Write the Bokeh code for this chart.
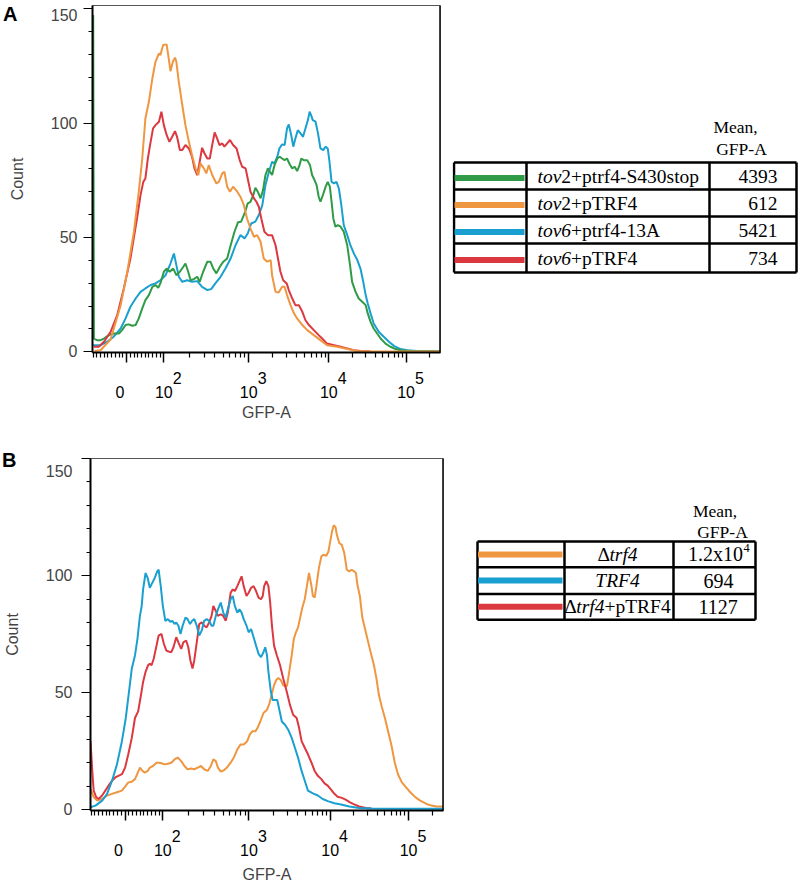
import math
from bokeh.plotting import figure
from bokeh.models import FixedTicker, Span, Range1d, Div
from bokeh.layouts import column, row
from bokeh.embed import file_html
from bokeh.resources import INLINE
from bokeh.core.properties import value

# ---------------- data ----------------
# x positions are read in display channels of the biexponential GFP-A axis (0-1000 across the plot)
TICK_CHANNELS = [98, 205, 449, 679, 901]
TICK_BASE = ["0", "10", "10", "10", "10"]
TICK_EXP = ["", "2", "3", "4", "5"]
COUNT_TICKS = [0, 50, 100, 150]

GREEN = "#2F9B47"
ORANGE = "#EF9641"
BLUE = "#1AA0D0"
RED = "#DB3840"

# Panel A
A_ORANGE_X = [6, 23, 52, 81, 100, 119, 133, 143, 152, 162, 172, 181, 191, 195, 203, 213, 219, 224, 231, 237,
              241, 248, 258, 267, 277, 286, 296, 304, 310, 320, 327, 334, 344, 356, 363, 373, 379, 387, 395, 404,
              416, 425, 435, 444, 454, 464, 473, 483, 492, 502, 512, 516, 526, 535, 545, 552, 559, 569, 579, 588,
              603, 617, 636, 655, 674, 703, 732, 761, 799, 1000]
A_ORANGE_Y = [0.4, 0.7, 5.4, 20.4, 35, 52.5, 70, 84.5, 102, 109.3, 119.5, 126.8, 130.5, 129.7, 134.1, 134.4, 128.3,
              122.7, 126.8, 128.6, 126.8, 118, 107.9, 99.1, 91.8, 86, 80.2, 77.3, 82.4, 80.2, 78, 81.6, 77.3, 73.6,
              74.3, 78, 78.7, 72.2, 70, 72.2, 70, 67.8, 64.1, 58.3, 53.9, 50.3, 51, 48.1, 40.8, 39.4, 40.1, 33.5,
              26.2, 25.9, 28.4, 28.4, 24.8, 20.4, 16.8, 14.6, 11.7, 9.5, 7.3, 5.1, 2.9, 2.2, 1.2, 0.4, 0.3, 0.1]

A_RED_X = [4, 18, 33, 52, 71, 90, 109, 128, 138, 146, 152, 159, 167, 174, 181, 191, 198, 205, 213, 221, 229, 237,
           243, 251, 258, 267, 277, 286, 293, 301, 308, 315, 322, 330, 337, 344, 351, 358, 365, 373, 379, 387, 395,
           404, 414, 423, 430, 440, 446, 454, 464, 471, 478, 485, 494, 504, 516, 526, 533, 540, 548, 558, 564, 574,
           583, 593, 603, 612, 622, 636, 650, 660, 674, 694, 713, 732, 751, 770, 799]
A_RED_Y = [2.2, 2.2, 4.4, 8.7, 16, 27.7, 40.8, 58.3, 68.5, 74.3, 75.8, 84.5, 91.8, 97.7, 99.1, 100.6, 105, 99.1,
           94.8, 91.8, 94, 96.5, 94, 88.2, 88.2, 90.4, 88.9, 85.3, 80.2, 77.3, 83.1, 89.2, 86.7, 84.5, 84.5, 90.4,
           95.9, 93.3, 90.4, 91.1, 89.7, 91.1, 92.6, 90.4, 88.9, 83.8, 80.9, 80.2, 75.8, 70, 67.1, 65.6, 63.4, 58.3,
           52.5, 51, 51, 46.6, 40.8, 35, 31.3, 29.9, 27, 23.3, 20.4, 20.4, 17.5, 13.8, 11.7, 9.5, 7.3, 5.8, 3.6,
           2.9, 2.2, 1.5, 0.7, 0.4, 0.1]

A_BLUE_X = [2, 23, 42, 61, 81, 95, 109, 124, 138, 152, 167, 181, 195, 210, 224, 234, 241, 248, 258, 272, 286, 301,
            315, 330, 341, 353, 368, 382, 397, 411, 425, 437, 446, 456, 468, 478, 488, 497, 507, 516, 523, 531, 537,
            545, 552, 559, 564, 571, 577, 583, 590, 598, 605, 612, 619, 624, 628, 633, 641, 648, 655, 663, 670, 676,
            681, 687, 694, 701, 708, 715, 722, 732, 741, 751, 761, 770, 778, 785, 791, 799, 808, 823, 837, 852, 866,
            885, 904, 933, 1000]
A_BLUE_Y = [2.9, 2.9, 4.4, 6.6, 10.2, 14.6, 19.7, 23.3, 26.2, 27.7, 29.2, 29.9, 31.3, 33.5, 38.6, 43, 37.9, 32.8,
            30.6, 31.3, 30.6, 30.9, 28.4, 27, 27.4, 29.9, 32.8, 36.4, 40.8, 46.6, 51, 49.6, 51.7, 56.1, 56.9, 59.8,
            64.1, 72.9, 78.7, 83.1, 82.4, 85.3, 88.9, 90.7, 90.4, 97.7, 99.4, 94.8, 89.7, 93.3, 96.9, 95.5, 94, 97.7,
            101.3, 105, 103.5, 101.3, 100.6, 95.5, 88.9, 88.2, 89.7, 88.9, 83.1, 74.3, 73.6, 74.3, 71.4, 64.1, 55.4,
            51, 46.6, 43, 40.1, 36.4, 30.6, 24.8, 21.1, 16.8, 12.4, 8.7, 6.6, 4.4, 2.6, 1.2, 0.7, 0.4, 0.3]

A_GREEN_X = [2, 4, 13, 23, 33, 47, 61, 76, 85, 95, 104, 114, 124, 133, 143, 152, 162, 172, 181, 189, 195, 205, 213,
             222, 232, 241, 251, 261, 267, 275, 282, 291, 301, 308, 318, 330, 339, 347, 356, 366, 376, 387, 397, 408,
             418, 427, 437, 446, 454, 462, 468, 475, 483, 490, 497, 504, 510, 516, 523, 531, 538, 545, 552, 559, 567,
             574, 581, 588, 595, 600, 607, 617, 625, 631, 638, 644, 650, 655, 662, 670, 676, 682, 687, 692, 698, 705,
             713, 722, 732, 740, 746, 756, 765, 775, 785, 791, 799, 808, 818, 828, 842, 856, 871, 885, 914, 1000]
A_GREEN_Y = [147.2, 5.8, 5.1, 5.1, 5.8, 7.3, 8, 8, 9.5, 11.7, 12, 11.4, 11.7, 14.6, 19, 22.6, 24.8, 28.4, 29.2, 28,
             29.9, 35, 36.4, 35, 36.4, 33.5, 35, 37.2, 38.6, 35, 31.3, 31.8, 32.8, 30.6, 35, 39.4, 39.4, 36.4, 34.3,
             37.2, 39.4, 40.8, 46.6, 52.5, 56.6, 56.9, 60.5, 64.9, 65.6, 68.5, 71.7, 70, 67.1, 70.7, 77.3, 80.2,
             78.7, 77.3, 81.6, 84.5, 85.3, 84.5, 83.8, 84.5, 81.9, 80.2, 80.9, 79, 81.6, 84.5, 83.8, 83.8, 81.6,
             77.3, 75.1, 72.9, 67.8, 65.6, 68.5, 72.2, 74.3, 72.2, 65.6, 58.3, 54.7, 55.4, 54.7, 52.5, 46.6, 37.9,
             30.6, 26.2, 23.3, 21.9, 20.4, 16.8, 13.1, 10.2, 8, 5.8, 3.6, 2.2, 1.2, 0.7, 0.4, 0.3]

# Panel B
B_BLUE_X = [0, 14, 33, 47, 61, 75, 89, 100, 109, 117, 126, 133, 140, 145, 149, 156, 162, 168, 175, 182, 189, 193,
            199, 205, 212, 219, 226, 232, 238, 243, 249, 255, 261, 269, 275, 282, 288, 294, 301, 308, 315, 322, 329,
            336, 343, 348, 355, 361, 369, 376, 383, 389, 397, 403, 409, 416, 422, 428, 434, 442, 448, 455, 462, 469,
            476, 483, 490, 495, 500, 504, 511, 516, 523, 529, 535, 542, 551, 560, 570, 579, 588, 598, 607, 616, 630,
            644, 658, 672, 691, 710, 733, 761, 798, 845, 1000]
B_BLUE_Y = [1.1, 1.8, 3.9, 6.8, 12.4, 19.4, 29.3, 39.2, 50.4, 60.3, 65.9, 73, 82.8, 87, 94.1, 101.1, 99, 94.8, 96.9,
            99, 101.8, 102.5, 95.5, 87, 80.7, 81.4, 80.3, 80.7, 79.3, 80, 78.6, 75.1, 78.6, 82.1, 81.4, 79.3, 80.7,
            81.4, 78.6, 74.4, 76.5, 80.7, 81.4, 80.7, 78.6, 78.6, 82.8, 85.6, 88.5, 84.2, 82.1, 85.6, 89.9, 91.3, 87,
            84.2, 85.6, 84.2, 81.4, 78.6, 75.8, 77.2, 73.7, 70.1, 66.6, 65.2, 67.3, 69.4, 65.9, 58.9, 50.4, 46.9,
            46.9, 46.9, 42.7, 37.7, 36.3, 34.2, 30.7, 26.5, 22.3, 16.6, 12.4, 8.2, 7, 6.1, 4.6, 3.7, 2.8, 2.3, 1.4,
            0.8, 0.6, 0.4, 0.4]

B_RED_X = [0, 5, 9, 16, 23, 33, 42, 51, 61, 70, 79, 89, 98, 107, 117, 126, 135, 143, 149, 156, 163, 168, 173, 179,
           187, 193, 201, 208, 215, 221, 229, 235, 243, 249, 257, 263, 271, 277, 283, 289, 294, 301, 308, 315, 322,
           329, 336, 343, 348, 355, 361, 369, 376, 383, 389, 397, 403, 409, 416, 422, 428, 434, 442, 448, 455, 462,
           469, 476, 483, 488, 492, 498, 504, 509, 514, 520, 528, 537, 546, 556, 565, 574, 584, 591, 598, 607, 616,
           626, 635, 644, 654, 663, 672, 682, 691, 700, 712, 724, 735, 747, 761, 780, 794]
B_RED_Y = [29.3, 16.6, 8.2, 5.4, 4.6, 6.1, 8.2, 10.3, 12.4, 13.8, 14.5, 15.2, 18, 23.7, 30.7, 39.2, 42, 49, 54.6,
           58.9, 61.7, 62.4, 61.7, 64.5, 70.1, 74.4, 75.1, 70.8, 68, 67.6, 67.3, 69.4, 73.7, 71.5, 68.7, 71.5, 72.3,
           69.4, 63.8, 60.3, 63.8, 71.5, 79.3, 80, 78.6, 77.9, 80, 82.8, 87, 84.9, 82.8, 83.5, 82.8, 80.7, 84.2,
           92.7, 94.1, 93.4, 95.5, 97.6, 99.7, 95.5, 91.3, 92.7, 94.8, 95.5, 93.4, 90.6, 89.9, 91.3, 95.5, 97.6,
           95.5, 88.5, 78.6, 70.1, 65.9, 61.7, 56.1, 50.4, 44.8, 40.6, 39.2, 34.9, 29.3, 26.5, 23.7, 20.1, 16.6,
           14.5, 13.1, 11.3, 10.3, 8.5, 6.8, 5.6, 5.1, 4.2, 3.2, 2.3, 1.4, 0.8, 0.7]

B_ORANGE_X = [0, 9, 19, 33, 47, 61, 75, 89, 98, 107, 117, 126, 134, 140, 147, 154, 162, 168, 177, 187, 193, 201,
              210, 219, 229, 238, 247, 257, 266, 275, 285, 294, 304, 313, 322, 332, 341, 348, 355, 361, 369, 378,
              388, 397, 406, 416, 425, 434, 444, 451, 458, 467, 473, 481, 490, 500, 507, 514, 520, 526, 532, 539,
              546, 554, 557, 563, 570, 576, 582, 588, 593, 600, 607, 613, 619, 626, 630, 635, 640, 647, 654, 660,
              668, 674, 679, 684, 689, 694, 698, 705, 712, 719, 726, 733, 740, 747, 752, 756, 763, 770, 780, 789,
              797, 803, 810, 817, 825, 834, 843, 853, 862, 871, 882, 894, 906, 920, 934, 952, 966, 980, 1000]
B_ORANGE_Y = [8.9, 5.4, 3.9, 4.6, 6.1, 6.8, 7.5, 8.2, 9.9, 11.7, 12, 13.1, 15.9, 18, 16.6, 15.9, 16.6, 18, 18.7,
              20.1, 20.1, 19.9, 19.4, 19.7, 20.1, 21.5, 22.3, 20.8, 18.7, 17.3, 17.6, 17.3, 18, 18.7, 17.3, 16.6,
              18.7, 21.5, 20.8, 18, 16.3, 16.9, 18.3, 20.1, 22.3, 25.8, 27.9, 27.9, 29.3, 32.1, 33.5, 33.5, 34.9,
              37.7, 41.3, 42.7, 45.5, 49.7, 53.2, 55.4, 56.3, 55.4, 53.2, 52.5, 53.2, 58.9, 65.9, 73, 75.8, 77.9,
              81.4, 86.3, 89.9, 95.5, 101.1, 95.5, 91.3, 90.6, 95.5, 103.2, 108.2, 108.9, 108.5, 110.3, 114.5, 118.7,
              121.5, 120.8, 117.3, 113.8, 113.1, 109.6, 102.5, 101.8, 102.5, 101.8, 101.1, 96.2, 91.3, 82.1, 75.8,
              70.1, 65.2, 61.7, 56.1, 49, 44.1, 39.2, 33.5, 27.2, 20.1, 15.2, 11.7, 9.6, 7.5, 5.4, 3.9, 2.5, 1.8,
              1.4, 1.4]

# Legend tables
TABLE_A_NAMES = [[("tov", True), ("2+ptrf4-S430stop", False)],
                 [("tov", True), ("2+pTRF4", False)],
                 [("tov6", True), ("+ptrf4-13A", False)],
                 [("tov6", True), ("+pTRF4", False)]]
TABLE_A_MEANS = ["4393", "612", "5421", "734"]
TABLE_A_COLORS = [GREEN, ORANGE, BLUE, RED]

TABLE_B_NAMES = [[("\u0394", False), ("trf4", True)],
                 [("TRF4", True)],
                 [("\u0394", False), ("trf4", True), ("+pTRF4", False)]]
TABLE_B_MEANS = [("1.2x10", "4"), ("694", ""), ("1127", "")]
TABLE_B_COLORS = [ORANGE, BLUE, RED]

HEADER_1 = "Mean,"
HEADER_2 = "GFP-A"

# ---------------- helpers ----------------
SANS = "Liberation Sans"
SERIF = "Liberation Serif"
NBSP = "\u00a0"

ROMAN_W = {'+': .564, 'p': .5, 't': .278, 'r': .333, 'f': .333, '-': .333, 'S': .556, 's': .389, 'o': .5,
           'T': .611, 'R': .667, 'F': .556, 'A': .722, '\u0394': .612, 'x': .5, '.': .25, 'v': .5}
ITALIC_W = {'t': .278, 'o': .5, 'v': .444, 'r': .389, 'f': .278, 'T': .556, 'R': .611, 'F': .611}


def text_width(s, italic, size):
    tbl = ITALIC_W if italic else ROMAN_W
    return sum(tbl.get(c, 0.5) for c in s) * size


def decade_label(base, exp):
    # exponent on a raised first line, shifted right of the "10"; both lines padded to equal width
    if exp:
        return NBSP * 6 + exp + "\n" + NBSP * 2 + base + NBSP * 2
    return "\n" + base + NBSP * 3


def minor_channel_ticks(ch):
    out = []
    c0, c2 = ch[0], ch[1]
    for v in range(-90, 100, 10):
        if v != 0:
            out.append(c0 + v / 100.0 * (c2 - c0))
    for i in range(1, len(ch)):
        a = ch[i]
        w = (ch[i + 1] - a) if i + 1 < len(ch) else (ch[i] - ch[i - 1])
        for k in range(2, 10):
            pos = a + math.log10(k) * w
            if pos < 1000:
                out.append(pos)
    return out


def hist_panel(curves, width, height, bl, br, bt, bb, y_start, y_end, ylab_standoff, top_lh, xlab_standoff):
    p = figure(width=width, height=height, x_range=Range1d(0, 1000), y_range=Range1d(y_start, y_end),
               output_backend="svg", toolbar_location=None,
               min_border_left=bl, min_border_right=br, min_border_top=bt, min_border_bottom=bb)
    p.background_fill_color = "white"
    p.border_fill_color = "white"
    p.border_fill_alpha = 0
    p.outline_line_color = "#555555"
    p.outline_line_width = 1
    p.xgrid.visible = False
    p.ygrid.visible = False

    for xs, ys, color in curves:
        p.line(xs, ys, line_color=color, line_width=2)

    p.add_layout(Span(location=p.x_range.end, dimension="height", line_color="black", line_width=2.5))

    xa = p.xaxis[0]
    xa.ticker = FixedTicker(ticks=TICK_CHANNELS, minor_ticks=minor_channel_ticks(TICK_CHANNELS))
    xa.major_label_overrides = {c: decade_label(b, e) for c, b, e in zip(TICK_CHANNELS, TICK_BASE, TICK_EXP)}
    xa.major_label_text_font = SANS
    xa.major_label_text_font_size = "16px"
    xa.major_label_text_color = "black"
    xa.major_label_text_line_height = 0.875
    xa.major_label_standoff = 7
    xa.major_tick_out = 10
    xa.major_tick_in = 0
    xa.minor_tick_out = 5
    xa.minor_tick_in = 0
    xa.major_tick_line_width = 1.5
    xa.minor_tick_line_width = 1.2
    xa.axis_line_width = 2
    xa.axis_line_color = "black"
    xa.axis_label = "GFP-A"
    xa.axis_label_text_font = SANS
    xa.axis_label_text_font_size = "16px"
    xa.axis_label_text_font_style = "normal"
    xa.axis_label_standoff = xlab_standoff

    ya = p.yaxis[0]
    ya.ticker = FixedTicker(ticks=COUNT_TICKS,
                            minor_ticks=[v for v in range(10, 150, 10) if v % 50])
    # the top count label sits just below its tick, as in the original
    ya.major_label_overrides = {COUNT_TICKS[-1]: "\n" + str(COUNT_TICKS[-1])}
    ya.major_label_text_line_height = top_lh
    ya.major_label_text_font = SANS
    ya.major_label_text_font_size = "16px"
    ya.major_label_standoff = ylab_standoff
    ya.major_tick_out = 9
    ya.major_tick_in = 0
    ya.minor_tick_out = 4
    ya.minor_tick_in = 0
    ya.axis_line_width = 2
    ya.axis_line_color = "black"
    ya.axis_label = "Count"
    ya.axis_label_text_font = SANS
    ya.axis_label_text_font_size = "16px"
    ya.axis_label_text_font_style = "normal"
    ya.axis_label_standoff = 22
    return p


def letter_div(letter, pad_top, pad_left):
    return Div(text=letter, width=24, height=30, margin=(0, -24, 0, 0),
               styles={"font-family": SANS, "font-size": "20px", "font-weight": "bold",
                       "line-height": "20px", "color": "black", "padding-top": f"{pad_top}px",
                       "padding-left": f"{pad_left}px", "z-index": "5", "position": "relative"})


def table_panel(width, height, bt, bb, cols, rows, names, means, colors, header_xy, name_mode, name_x,
                mean_mode, mean_x, name_size, mean_size, swatch_dy):
    # frame shares the top / bottom borders of the histogram in the same row; data units = pixels
    p = figure(width=width, height=height, x_range=Range1d(0, width), y_range=Range1d(height - bb, bt),
               output_backend="svg", toolbar_location=None, min_border_left=0, min_border_right=0,
               min_border_top=bt, min_border_bottom=bb, x_axis_type=None, y_axis_type=None)
    p.outline_line_color = None
    p.background_fill_color = "white"
    p.border_fill_color = "white"
    p.xgrid.visible = False
    p.ygrid.visible = False

    (h1x, h1y), (h2x, h2y) = header_xy
    p.text(x=[h1x, h2x], y=[h1y, h2y], text=[HEADER_1, HEADER_2], text_font=value(SERIF),
           text_font_size="17.5px", text_align="center", text_baseline="middle", text_color="black")

    p.segment(x0=[cols[0]] * len(rows), x1=[cols[-1]] * len(rows), y0=rows, y1=rows,
              line_color="black", line_width=2.5)
    p.segment(x0=cols, x1=cols, y0=[rows[0]] * len(cols), y1=[rows[-1]] * len(cols),
              line_color="black", line_width=2.5)

    centers = [(rows[i] + rows[i + 1]) / 2 for i in range(len(rows) - 1)]
    p.segment(x0=[cols[0] + 0.5] * len(colors), x1=[cols[1] - 2] * len(colors),
              y0=[c + swatch_dy for c in centers], y1=[c + swatch_dy for c in centers],
              line_color=colors, line_width=6)

    for segs, cy in zip(names, centers):
        total = sum(text_width(s, it, name_size) for s, it in segs)
        x = name_x if name_mode == "left" else name_x - total / 2
        for s, it in segs:
            p.text(x=[x], y=[cy], text=[s], text_font=value(SERIF), text_font_size=f"{name_size}px",
                   text_font_style="italic" if it else "normal", text_align="left",
                   text_baseline="middle", text_color="black")
            x += text_width(s, it, name_size)

    for m, cy in zip(means, centers):
        base, sup = m if isinstance(m, tuple) else (m, "")
        bw = text_width(base, False, mean_size)
        sw = text_width(sup, False, mean_size * 0.62)
        x0 = mean_x - bw - sw if mean_mode == "right" else mean_x - (bw + sw) / 2
        p.text(x=[x0], y=[cy], text=[base], text_font=value(SERIF), text_font_size=f"{mean_size}px",
               text_align="left", text_baseline="middle", text_color="black")
        if sup:
            p.text(x=[x0 + bw + 0.5], y=[cy - 6], text=[sup], text_font=value(SERIF),
                   text_font_size=f"{mean_size * 0.62:.1f}px", text_align="left",
                   text_baseline="middle", text_color="black")
    return p


# ---------------- build ----------------
curves_a = [(A_BLUE_X, A_BLUE_Y, BLUE), (A_GREEN_X, A_GREEN_Y, GREEN),
            (A_RED_X, A_RED_Y, RED), (A_ORANGE_X, A_ORANGE_Y, ORANGE)]
curves_b = [(B_ORANGE_X, B_ORANGE_Y, ORANGE), (B_RED_X, B_RED_Y, RED), (B_BLUE_X, B_BLUE_Y, BLUE)]

fig_a = hist_panel(curves_a, width=452, height=440, bl=92, br=12, bt=5, bb=88,
                   y_start=-0.3, y_end=151.4, ylab_standoff=6, top_lh=0.4, xlab_standoff=0)
fig_b = hist_panel(curves_b, width=452, height=446, bl=86, br=9, bt=18, bb=72,
                   y_start=-0.3, y_end=150.0, ylab_standoff=9, top_lh=1.31, xlab_standoff=4)

tab_a = table_panel(348, 440, 5, 88, cols=[1.5, 74, 257, 344], rows=[162, 189, 216, 243, 272],
                    names=TABLE_A_NAMES, means=TABLE_A_MEANS, colors=TABLE_A_COLORS,
                    header_xy=[(283, 126), (289, 148)], name_mode="left", name_x=85,
                    mean_mode="right", mean_x=325, name_size=19.5, mean_size=19.5, swatch_dy=2)
tab_b = table_panel(348, 446, 18, 72, cols=[25, 112, 221, 303], rows=[102, 128, 155, 181],
                    names=TABLE_B_NAMES, means=TABLE_B_MEANS, colors=TABLE_B_COLORS,
                    header_xy=[(262.5, 71.5), (270, 92)], name_mode="center", name_x=165,
                    mean_mode="center", mean_x=266, name_size=19.5, mean_size=20, swatch_dy=0)

layout = column(row(letter_div("A", 4, 3), fig_a, tab_a),
                row(letter_div("B", 10, 2), fig_b, tab_b))

with open("out.html", "w") as f:
    f.write(file_html(layout, INLINE, title="GFP-A histograms"))
